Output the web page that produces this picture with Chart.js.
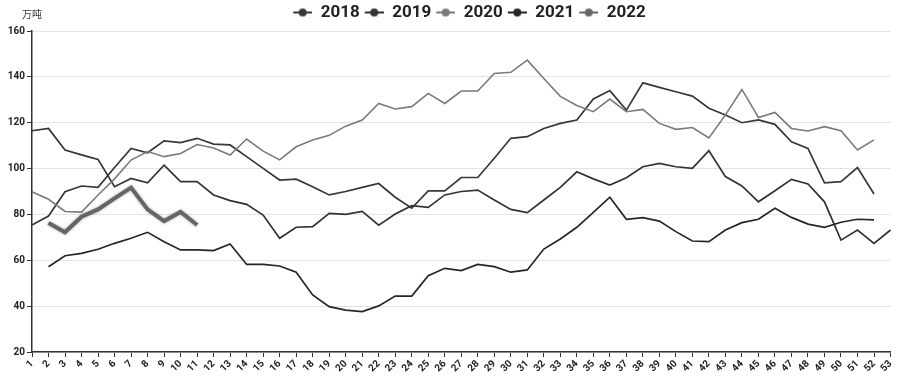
<!DOCTYPE html>
<html><head><meta charset="utf-8">
<script src="https://cdn.jsdelivr.net/npm/chart.js@4.4.1/dist/chart.umd.min.js"></script>
<style>html,body{margin:0;padding:0;background:#fff;}#wrap{width:900px;height:381px;position:relative;}</style>
</head><body><div id="wrap"><canvas id="c"></canvas></div>
<script>
const weeks = ['1','2','3','4','5','6','7','8','9','10','11','12','13','14','15','16','17','18','19','20','21','22','23','24','25','26','27','28','29','30','31','32','33','34','35','36','37','38','39','40','41','42','43','44','45','46','47','48','49','50','51','52','53'];
const years = ['2018','2019','2020','2021','2022'];
const unitLabel = '万吨';
const s2018 = [75.4,79.3,89.9,92.4,91.8,100.5,108.8,106.9,112.1,111.3,113.2,110.7,110.3,105.2,100.1,95.0,95.4,92.1,88.5,90.0,91.8,93.5,87.5,82.7,90.3,90.3,96.1,96.1,104.5,113.2,113.9,117.5,119.7,121.2,130.4,134.0,125.5,137.4,135.4,133.5,131.6,126.3,123.4,120.0,121.2,119.3,111.7,108.8,93.8,94.3,100.4,88.9,null];
const s2019 = [116.5,117.5,108.1,106.0,104.0,92.1,95.7,93.8,101.5,94.3,94.3,88.5,86.0,84.4,79.7,69.6,74.4,74.7,80.5,80.0,81.3,75.3,80.2,83.8,83.1,88.5,90.0,90.6,86.3,82.2,80.8,86.3,91.8,98.6,95.5,92.8,96.0,100.8,102.3,100.8,100.1,107.8,96.5,92.4,85.5,90.3,95.3,93.3,85.5,68.8,73.2,67.4,73.2];
const s2020 = [89.9,86.6,81.3,81.0,88.5,95.5,103.7,107.4,105.2,106.6,110.5,109.0,105.9,112.9,107.6,103.8,109.5,112.5,114.5,118.5,121.2,128.4,126.0,127.0,132.8,128.4,133.8,133.8,141.5,142.0,147.3,139.3,131.5,127.5,124.8,130.3,124.8,125.8,119.7,117.1,117.9,113.4,123.4,134.5,122.3,124.5,117.5,116.4,118.3,116.5,108.1,112.5,null];
const s2021 = [null,57.2,62.0,63.0,64.8,67.4,69.6,72.2,68.1,64.5,64.5,64.2,67.1,58.2,58.2,57.5,54.8,44.9,39.8,38.3,37.6,40.1,44.4,44.4,53.3,56.5,55.5,58.2,57.2,54.8,55.8,64.9,69.3,74.4,80.9,87.5,77.9,78.6,77.1,72.5,68.4,68.1,73.2,76.4,77.9,82.7,78.7,75.8,74.4,76.6,77.9,77.6,null];
const s2022 = [null,76.3,72.2,79.0,82.2,87.0,91.7,82.2,77.1,81.1,75.4];

const colors = ['#383838','#333333','#7a7a7a','#262626','#666666'];
const widths = [1.7,1.7,1.6,1.7,4];

function marker(color){
  const c=document.createElement('canvas'); c.width=22; c.height=10;
  const g=c.getContext('2d');
  g.strokeStyle=color; g.lineWidth=2;
  g.beginPath(); g.moveTo(3,5); g.lineTo(22,5); g.stroke();
  g.fillStyle=color; g.beginPath(); g.arc(12.5,5,4,0,Math.PI*2); g.fill();
  return c;
}
const markers = colors.map(marker);

const series = [s2018,s2019,s2020,s2021,s2022];
const datasets = series.map((d,i)=>({
  label: years[i], data: d, borderColor: colors[i], backgroundColor: colors[i],
  borderWidth: widths[i], pointRadius: 0, pointHoverRadius: 0, tension: 0, fill: false,
  order: i===4 ? 0 : 5-i, spanGaps: false
}));

const unitPlugin = {
  id:'unit',
  afterDraw(chart){
    const ctx=chart.ctx; ctx.save();
    ctx.font='10px "Noto Sans CJK SC"'; ctx.fillStyle='#333'; ctx.textBaseline='middle'; ctx.textAlign='left';
    ctx.fillText(unitLabel, 22, 14); ctx.restore();
  }
};
const shadowPlugin = {
  id:'shadow',
  beforeDatasetDraw(chart,args){ if(args.index===4){ const c=chart.ctx; c.save(); c.shadowColor='rgba(0,0,0,0.35)'; c.shadowBlur=3; } },
  afterDatasetDraw(chart,args){ if(args.index===4){ chart.ctx.restore(); } }
};
const legendShift = {
  id:'legendShift',
  afterLayout(chart){ const l=chart.legend; if(l){ l.left+=22; l.right+=22; } }
};

new Chart(document.getElementById('c'), {
  type:'line',
  data:{ labels: weeks, datasets },
  options:{
    responsive:true, maintainAspectRatio:false, animation:false,
    layout:{ padding:{ left:0, right:8, top:2, bottom:0 } },
    plugins:{
      tooltip:{enabled:false},
      legend:{
        display:true, position:'top', align:'center',
        labels:{
          usePointStyle:true, pointStyleWidth:22, padding:2,
          color:'#222', font:{ family:'Roboto', size:17, weight:'bold' },
          sort:(a,b)=>a.datasetIndex-b.datasetIndex,
          generateLabels(chart){
            const items = Chart.defaults.plugins.legend.labels.generateLabels(chart);
            items.forEach(it=>{ it.pointStyle = markers[it.datasetIndex]; });
            return items;
          }
        }
      }
    },
    scales:{
      x:{
        offset:false,
        afterFit(s){ s.height = 29; },
        grid:{ display:true, drawOnChartArea:false, drawTicks:true, tickLength:5, tickColor:'#333', tickWidth:1 },
        border:{ display:true, color:'#333', width:1.5 },
        ticks:{ autoSkip:false, maxRotation:45, minRotation:45, padding:1, color:'#222', font:{ family:'Roboto', size:10, weight:'bold' } }
      },
      y:{
        min:20, max:160,
        afterFit(s){ s.width = 32; },
        grid:{ color:'#e3e3e3', lineWidth:1, tickColor:'#333', tickLength:5, drawTicks:true },
        border:{ display:true, color:'#333', width:1.5 },
        ticks:{ stepSize:20, padding:2, color:'#222', font:{ family:'Roboto', size:10, weight:'bold' } }
      }
    }
  },
  plugins:[unitPlugin, shadowPlugin, legendShift]
});
</script></body></html>
